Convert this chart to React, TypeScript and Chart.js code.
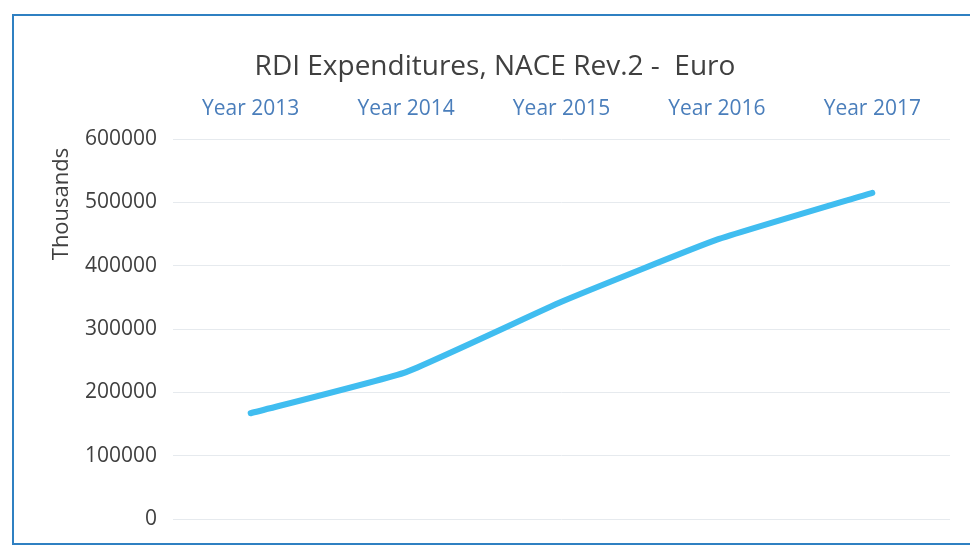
import React, { useEffect, useRef } from "react";
import { Chart, registerables } from "chart.js";

Chart.register(...registerables);

const categories = ["Year 2013", "Year 2014", "Year 2015", "Year 2016", "Year 2017"];
const expenditures = [167000, 232000, 343000, 441000, 515000];
const chartTitle = "RDI Expenditures, NACE Rev.2 -  Euro";
const yAxisTitle = "Thousands";
const yMin = 0;
const yMax = 600000;
const yStep = 100000;

const FONT = "'Open Sans', 'DejaVu Sans', sans-serif";

const textPlugin = {
  id: "customTexts",
  afterDraw(chart: any) {
    const ctx = chart.ctx;
    ctx.save();
    ctx.fillStyle = "#404040";
    ctx.font = `28px ${FONT}`;
    ctx.textAlign = "center";
    ctx.textBaseline = "middle";
    ctx.fillText(chartTitle, 495, 67);
    ctx.translate(62, 204);
    ctx.rotate(-Math.PI / 2);
    ctx.font = `22px ${FONT}`;
    ctx.fillText(yAxisTitle, 0, 0);
    ctx.restore();
  },
};

export default function App() {
  const ref = useRef<HTMLCanvasElement | null>(null);
  useEffect(() => {
    if (!ref.current) return;
    const chart = new Chart(ref.current, {
      type: "line",
      data: {
        labels: categories,
        datasets: [
          {
            data: expenditures,
            borderColor: "#40bdf0",
            borderWidth: 6,
            pointRadius: 0,
            tension: 0.12,
            borderCapStyle: "round",
            fill: false,
          },
        ],
      },
      options: {
        animation: false,
        responsive: false,
        maintainAspectRatio: false,
        layout: { padding: { top: 0, left: 0, right: 20, bottom: 30 } },
        plugins: {
          legend: { display: false },
          title: { display: false },
          tooltip: { enabled: false },
        },
        scales: {
          x: {
            position: "top",
            offset: true,
            grid: { display: false, drawTicks: false },
            border: { display: false },
            ticks: {
              color: "#4a7ebb",
              font: { family: FONT, size: 21 },
              padding: 17,
              maxRotation: 0,
            },
            afterFit(scale: any) {
              scale.height = 139;
            },
          },
          y: {
            min: yMin,
            max: yMax,
            grid: { color: "#e6eaee", lineWidth: 1, drawTicks: false },
            border: { display: false },
            ticks: {
              stepSize: yStep,
              color: "#404040",
              font: { family: FONT, size: 21 },
              padding: 16,
              callback: (v: any) => String(v),
            },
            afterFit(scale: any) {
              scale.width = 173;
            },
          },
        },
      },
      plugins: [textPlugin],
    });
    return () => chart.destroy();
  }, []);

  return (
    <div
      style={{
        position: "fixed",
        left: 0,
        top: 0,
        width: 970,
        height: 549,
        background: "#ffffff",
        overflow: "hidden",
      }}
    >
      <div
        style={{
          position: "absolute",
          left: 12,
          top: 14,
          width: 1000,
          height: 531,
          border: "2px solid #2f80c2",
          boxSizing: "border-box",
        }}
      />
      <canvas
        ref={ref}
        width={970}
        height={549}
        style={{ position: "absolute", left: 0, top: 0 }}
      />
    </div>
  );
}
